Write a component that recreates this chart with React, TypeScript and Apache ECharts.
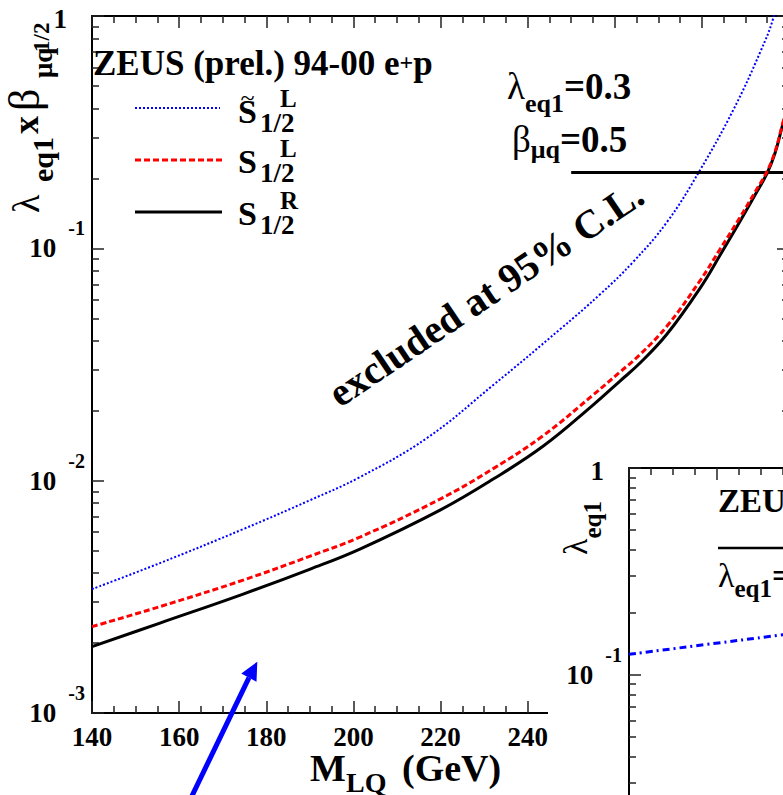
import React, { useEffect, useRef } from 'react';
import * as echarts from 'echarts';

const SERIF = '"Liberation Serif", "Times New Roman", Times, serif';

// ---------------- Main panel data (M_LQ in GeV, limit on lambda_eq1 x sqrt(beta_muq)) ----------------
// S_1/2^R (black, solid)
const massSR = [140, 155.6, 174.7, 190.1, 201.5, 219.9, 232.1, 243.6, 255.0, 261.2, 265.8, 272.0, 279.6, 284.2, 288.8, 292.2, 295.0, 296.8, 298.4, 300];
const limitSR = [0.001931, 0.002438, 0.003249, 0.004163, 0.005076, 0.007469, 0.01016, 0.01409, 0.02115, 0.02684, 0.03208, 0.04277, 0.06746, 0.09357, 0.1311, 0.1696, 0.211, 0.2572, 0.3327, 0.435];

// S_1/2^L (red, dashed)
const massSL = [140, 155.6, 174.7, 190.1, 201.5, 219.9, 232.1, 243.6, 255.0, 261.2, 265.8, 272.0, 279.6, 284.2, 288.8, 292.2, 295.0, 296.8, 298.4, 300];
const limitSL = [0.002354, 0.002871, 0.003733, 0.004735, 0.005718, 0.008333, 0.01127, 0.01564, 0.02336, 0.02935, 0.0349, 0.04629, 0.07266, 0.09931, 0.1364, 0.1747, 0.2152, 0.261, 0.336, 0.4392];

// S~_1/2^L (blue, dotted)
const massSLt = [140, 155.6, 174.7, 190.1, 201.5, 216.9, 232.1, 247.5, 256.7, 264.2, 272.0, 279.6, 287.2, 293.4, 296.4, 297.5];
const limitSLt = [0.003414, 0.004418, 0.006186, 0.00825, 0.01036, 0.01526, 0.02579, 0.04493, 0.06357, 0.0873, 0.1298, 0.2174, 0.3938, 0.6998, 0.9804, 1.29];

// lambda_eq1 = 0.3, beta_muq = 0.5  ->  0.3 * sqrt(0.5)
const refMass = [250, 300];
const refCoupling = [0.212, 0.212];

// ---------------- Inset panel data ----------------
const insetMass = [140, 157.6, 174, 185];
const insetCoupling = [0.1255, 0.14, 0.155, 0.166];

// ---------------- Axis ticks ----------------
const xMin = 140;
const xMax = 300;
const xInterval = 20;
const yMajorTicks = [0.001, 0.01, 0.1, 1];
const yMinorTicks = [0.002, 0.003, 0.004, 0.005, 0.006, 0.007, 0.008, 0.009, 0.02, 0.03, 0.04, 0.05, 0.06, 0.07, 0.08, 0.09, 0.2, 0.3, 0.4, 0.5, 0.6, 0.7, 0.8, 0.9];

const zip = (xs: number[], ys: number[]) => xs.map((x, i) => [x, ys[i]]);

const tickLine = { color: '#222', width: 1.5 };
const frameLine = { color: '#000', width: 2 };

const logLabel = (v: number) => {
  const e = Math.round(Math.log10(v));
  return e === 0 ? '{one|1}' : `{b|10}{s|${e}}`;
};
const logRich = {
  b: { fontSize: 27, fontWeight: 'bold', fontFamily: SERIF, color: '#000' },
  s: { fontSize: 20, fontWeight: 'bold', fontFamily: SERIF, color: '#000', padding: [0, 0, 40, 12] },
  one: { fontSize: 27, fontWeight: 'bold', fontFamily: SERIF, color: '#000', padding: [6, 18, 0, 0] },
};

const xAxisDef = (gridIndex: number, position: string, showLabel: boolean, z: number) => ({
  type: 'value',
  gridIndex,
  position,
  min: xMin,
  max: xMax,
  interval: xInterval,
  z,
  axisLine: { show: true, onZero: false, lineStyle: frameLine },
  axisTick: { show: true, inside: true, length: 12, lineStyle: tickLine },
  minorTick: { show: true, splitNumber: 4, length: 7, lineStyle: tickLine },
  splitLine: { show: false },
  minorSplitLine: { show: false },
  axisLabel: showLabel
    ? { show: true, margin: 10, fontSize: 27, fontWeight: 'bold', fontFamily: SERIF, color: '#000' }
    : { show: false },
});

const yAxisMajor = (gridIndex: number, position: string, showLabel: boolean, z: number) => ({
  type: 'log',
  logBase: 10,
  gridIndex,
  position,
  min: 0.001,
  max: 1,
  z,
  axisLine: { show: true, onZero: false, lineStyle: frameLine },
  axisTick: { show: true, inside: true, length: 12, customValues: yMajorTicks, lineStyle: tickLine },
  splitLine: { show: false },
  axisLabel: showLabel
    ? { show: true, customValues: yMajorTicks, margin: 7, formatter: logLabel, rich: logRich }
    : { show: false },
});

const yAxisMinor = (gridIndex: number, position: string, z: number) => ({
  type: 'log',
  logBase: 10,
  gridIndex,
  position,
  min: 0.001,
  max: 1,
  z,
  axisLine: { show: false },
  axisTick: { show: true, inside: true, length: 7, customValues: yMinorTicks, lineStyle: tickLine },
  splitLine: { show: false },
  axisLabel: { show: false },
});

const txt = (x: number, y: number, text: string, rich: any, extra: any = {}) => ({
  type: 'text',
  x,
  y,
  z: 100,
  ...extra,
  style: { text, rich, align: 'left', verticalAlign: 'middle', fill: '#000' },
});

const rs = (size: number, bold = true, padding?: number[]) => ({
  fontSize: size,
  fontWeight: bold ? 'bold' : 'normal',
  fontFamily: SERIF,
  fill: '#000',
  color: '#000',
  ...(padding ? { padding } : {}),
});

const plain = (x: number, y: number, text: string, size: number, bold = true, extra: any = {}, align = 'left') => ({
  type: 'text',
  x,
  y,
  z: 100,
  ...extra,
  style: {
    text,
    fontSize: size,
    fontWeight: bold ? 'bold' : 'normal',
    fontFamily: SERIF,
    fill: '#000',
    align,
    verticalAlign: 'middle',
  },
});

const up = { rotation: Math.PI / 2 };

const legendEntry = (y: number, sup: string, tilde: boolean) => {
  const els: any[] = [
    plain(238, y, 'S', 34),
    plain(280, y - 13, sup, 25),
    plain(260, y + 11, '1/2', 27),
  ];
  if (tilde) els.push(plain(247.5, y - 14, '~', 26, false, {}, 'center'));
  return els;
};

const theta = (34 * Math.PI) / 180;

const lineSeries = (name: string, xs: number[], ys: number[], color: string, width: number, type: any, z: number) => ({
  type: 'line', name, xAxisIndex: 0, yAxisIndex: 0, data: zip(xs, ys),
  symbol: 'none', smooth: 0.4, z,
  lineStyle: { color, width, type },
});

const option: any = {
  animation: false,
  backgroundColor: '#fff',
  grid: [
    { left: 92, top: 16, width: 697, height: 697, outerBoundsMode: 'none', containLabel: false },
    { left: 629, top: 468, width: 704, height: 620, outerBoundsMode: 'none', containLabel: false },
  ],
  xAxis: [
    xAxisDef(0, 'bottom', true, 0),
    xAxisDef(0, 'top', false, 0),
    xAxisDef(1, 'bottom', true, 60),
    xAxisDef(1, 'top', false, 60),
  ],
  yAxis: [
    yAxisMajor(0, 'left', true, 0),
    yAxisMinor(0, 'left', 0),
    yAxisMajor(0, 'right', false, 0),
    yAxisMinor(0, 'right', 0),
    yAxisMajor(1, 'left', true, 60),
    yAxisMinor(1, 'left', 60),
  ],
  series: [
    lineSeries('S~L 1/2', massSLt, limitSLt, '#0000ff', 2, [2, 2], 3),
    lineSeries('S L 1/2', massSL, limitSL, '#ff0000', 3, [6, 3], 4),
    lineSeries('S R 1/2', massSR, limitSR, '#000000', 3, 'solid', 3),
    {
      type: 'line', name: 'reference', xAxisIndex: 0, yAxisIndex: 0, data: zip(refMass, refCoupling),
      symbol: 'none', z: 3,
      lineStyle: { color: '#000', width: 3 },
    },
    {
      type: 'line', name: 'inset', xAxisIndex: 2, yAxisIndex: 4, data: zip(insetMass, insetCoupling),
      symbol: 'none', smooth: 0.5, z: 60,
      lineStyle: { color: '#0000ff', width: 3, type: [7, 4, 2, 4] },
    },
  ],
  graphic: [
    // white background of the inset panel
    { type: 'rect', z: 50, shape: { x: 548, y: 452, width: 300, height: 400 }, style: { fill: '#fff' } },

    // y axis title: lambda_eq1 x beta_muq ^1/2 (reads bottom to top)
    plain(26, 213, 'λ', 38, false, up),
    plain(42, 182, 'eq1', 30, true, up),
    plain(26, 134, 'x', 36, true, up),
    plain(24, 111, 'β', 44, false, up),
    plain(42.5, 78, 'μq', 27, true, up),
    plain(41, 52, '1/2', 23, true, up),

    // x axis title
    plain(310, 768, 'M', 38),
    plain(346, 782.5, 'LQ', 28),
    plain(402, 768, '(GeV)', 38),

    // legend
    txt(93, 63.5, '{a|ZEUS (prel.) 94-00 e}{sup|+}{a|p}', { a: rs(35), sup: rs(24, true, [0, 0, 4, 0]) }),
    { type: 'line', z: 100, shape: { x1: 135, y1: 108, x2: 220, y2: 108 }, style: { stroke: '#0000ff', lineWidth: 2, lineDash: [2, 2] } },
    { type: 'line', z: 100, shape: { x1: 135, y1: 160, x2: 223, y2: 160 }, style: { stroke: '#ff0000', lineWidth: 3, lineDash: [6, 3] } },
    { type: 'line', z: 100, shape: { x1: 135, y1: 212, x2: 222, y2: 212 }, style: { stroke: '#000', lineWidth: 3 } },
    ...legendEntry(111.5, 'L', true),
    ...legendEntry(161.5, 'L', false),
    ...legendEntry(213.5, 'R', false),

    // coupling values
    txt(507, 86.5, '{g|λ}{sub|eq1}{a|=0.3}', { g: rs(37, false), sub: rs(26, true, [33, 0, 0, 0]), a: rs(37) }),
    txt(512, 139, '{g|β}{sub|μq}{a|=0.5}', { g: rs(37, false), sub: rs(26, true, [21, 0, 0, 0]), a: rs(37) }),

    // excluded region label
    plain(332.5, 397, 'excluded at 95% C.L.', 40, true, { rotation: theta }),

    // inset texts
    { ...plain(718, 501, 'ZEUS', 33), z: 110 },
    { type: 'line', z: 110, shape: { x1: 718, y1: 548, x2: 800, y2: 548 }, style: { stroke: '#000', lineWidth: 2.5 } },
    { ...txt(718, 575, '{g|λ}{sub|eq1}{a|=}', { g: rs(34, false), sub: rs(25, true, [26, 0, 0, 0]), a: rs(34) }), z: 110 },
    { ...txt(575.5, 555, '{g|λ}{sub|eq1}', { g: rs(34, false), sub: rs(25, true, [34, 0, 0, 0]) }, up), z: 110 },

    // blue arrow
    { type: 'line', z: 100, shape: { x1: 190, y1: 800, x2: 249, y2: 677.6 }, style: { stroke: '#0000ff', lineWidth: 5 } },
    { type: 'polygon', z: 100, shape: { points: [[257.3, 661.7], [256.5, 681.8], [241.3, 673.4]] }, style: { fill: '#0000ff' } },
  ],
};

export default function App() {
  const ref = useRef<HTMLDivElement>(null);
  useEffect(() => {
    if (!ref.current) return;
    const chart = echarts.init(ref.current, undefined, { renderer: 'svg' });
    chart.setOption(option);
    return () => chart.dispose();
  }, []);
  return (
    <div
      ref={ref}
      style={{ position: 'fixed', left: 0, top: 0, width: 783, height: 795, background: '#fff' }}
    />
  );
}
